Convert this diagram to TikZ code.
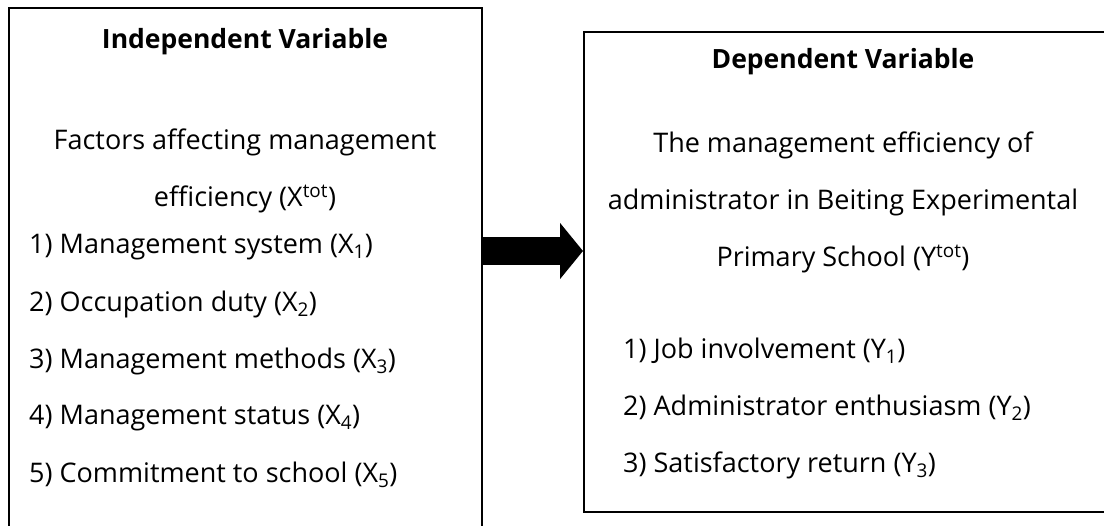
\documentclass[tikz,border=0pt]{standalone}
\usepackage{fontspec}
\setmainfont{Open Sans}
\usetikzlibrary{arrows.meta}
\usetikzlibrary{positioning}
\usetikzlibrary{calc}

\begin{document}
\begin{tikzpicture}[x=1pt, y=-1pt, auto,swap]

	\useasboundingbox (0,0) rectangle (1104,526);

	\def\d{57};
	\def\lx{29};
	\def\rx{623};

	\tikzset{
		box/.style={draw, line width=2pt, inner sep=0},
		head/.style={font=\fontsize{26.5}{31}\selectfont\bfseries, inner sep=0},
		txt/.style={font=\fontsize{27}{32}\selectfont, inner sep=0}
	}

	% the two boxes
	\node[box, minimum width=473pt, minimum height=524pt] (indep) at (245.5,270) {};
	\node[box, minimum width=522pt, minimum height=480pt] (dep) at (845,272) {};

	% left box
	\node[head] (indeptitle) at (245,42) {Independent Variable};
	\node[txt] (factors) at (245,142) {Factors affecting management};
	\node[txt] (effic) at (245,199) {efficiency (X\textsuperscript{tot})};
	\foreach \i/\txt/\name in {0/1) Management system (X\textsubscript{1})/x1,
		1/2) Occupation duty (X\textsubscript{2})/x2,
		2/3) Management methods (X\textsubscript{3})/x3,
		3/4) Management status (X\textsubscript{4})/x4,
		4/5) Commitment to school (X\textsubscript{5})/x5} {
		\node[txt, anchor=west] (\name) at (\lx, 247+\i*\d) {\txt};
	}

	% right box
	\node[head] (deptitle) at (843,62) {Dependent Variable};
	\foreach \i/\txt/\name in {0/The management efficiency of/y0a,
		1/administrator in Beiting Experimental/y0b,
		2/Primary School (Y\textsuperscript{tot})/y0c} {
		\node[txt] (\name) at (843, 145+\i*\d) {\txt};
	}
	\foreach \i/\txt/\name in {0/1) Job involvement (Y\textsubscript{1})/y1,
		1/2) Administrator enthusiasm (Y\textsubscript{2})/y2,
		2/3) Satisfactory return (Y\textsubscript{3})/y3} {
		\node[txt, anchor=west] (\name) at (\rx, 351+\i*\d) {\txt};
	}

	% arrow
	\coordinate (arrowstart) at (indep.east |- 0,251);
	\draw[line width=28pt, -{Triangle[length=23pt, width=55pt]}] (arrowstart) -- (arrowstart -| dep.west);

\end{tikzpicture}
\end{document}
